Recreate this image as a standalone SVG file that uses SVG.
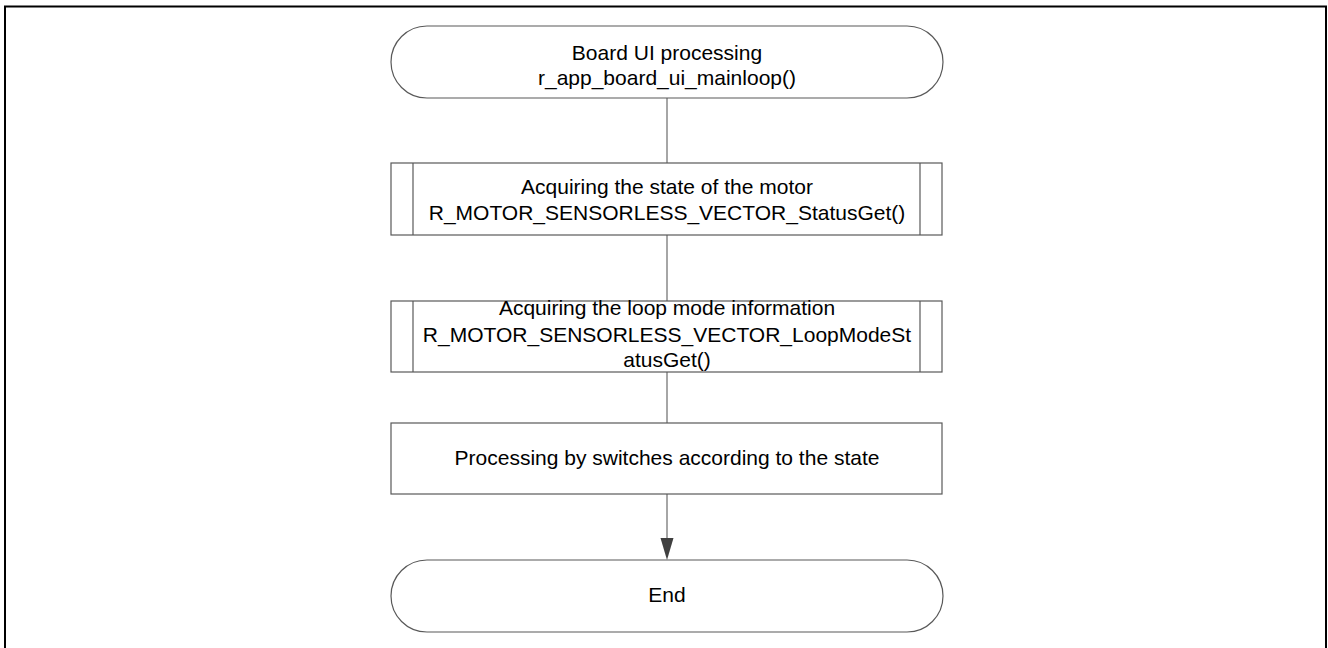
<svg xmlns="http://www.w3.org/2000/svg" width="1328" height="648" viewBox="0 0 1328 648">
  <defs>
    <style>
      .shape { fill: #ffffff; stroke: #595959; stroke-width: 1.2; }
      .conn { fill: none; stroke: #6b6b6b; stroke-width: 1.2; }
      .t { font-family: "Liberation Sans", Arial, sans-serif; font-size: 21px; fill: #000000; text-anchor: middle; }
    </style>
  </defs>
  <rect x="0" y="0" width="1328" height="648" fill="#ffffff"/>
  <rect x="5" y="6.5" width="1321" height="660" fill="none" stroke="#000000" stroke-width="2"/>

  <g id="connectors">
    <line class="conn" x1="667" y1="98" x2="667" y2="163"/>
    <line class="conn" x1="667" y1="235" x2="667" y2="301"/>
    <line class="conn" x1="667" y1="372" x2="667" y2="423"/>
    <path d="M667,494 L667,538" class="conn"/>
    <path d="M660.5,538 L673.5,538 L667,560 Z" fill="#404040"/>
  </g>

  <g id="start">
    <rect class="shape" x="391" y="26" width="552" height="72" rx="36" ry="36"/>
    <text class="t" x="667" y="60">Board UI processing</text>
    <text class="t" x="667" y="85">r_app_board_ui_mainloop()</text>
  </g>

  <g id="status-get">
    <rect class="shape" x="391" y="163" width="551" height="72"/>
    <line class="shape" x1="413" y1="163" x2="413" y2="235"/>
    <line class="shape" x1="920" y1="163" x2="920" y2="235"/>
    <text class="t" x="667" y="194">Acquiring the state of the motor</text>
    <text class="t" x="667" y="220">R_MOTOR_SENSORLESS_VECTOR_StatusGet()</text>
  </g>

  <g id="loopmode-get">
    <rect class="shape" x="391" y="301" width="551" height="71"/>
    <line class="shape" x1="413" y1="301" x2="413" y2="372"/>
    <line class="shape" x1="920" y1="301" x2="920" y2="372"/>
    <text class="t" x="667" y="315">Acquiring the loop mode information</text>
    <text class="t" x="667" y="342">R_MOTOR_SENSORLESS_VECTOR_LoopModeSt</text>
    <text class="t" x="667" y="367">atusGet()</text>
  </g>

  <g id="switch-processing">
    <rect class="shape" x="391" y="423" width="551" height="71"/>
    <text class="t" x="667" y="465">Processing by switches according to the state</text>
  </g>

  <g id="end">
    <rect class="shape" x="391" y="560" width="552" height="72" rx="36" ry="36"/>
    <text class="t" x="667" y="602">End</text>
  </g>
</svg>
